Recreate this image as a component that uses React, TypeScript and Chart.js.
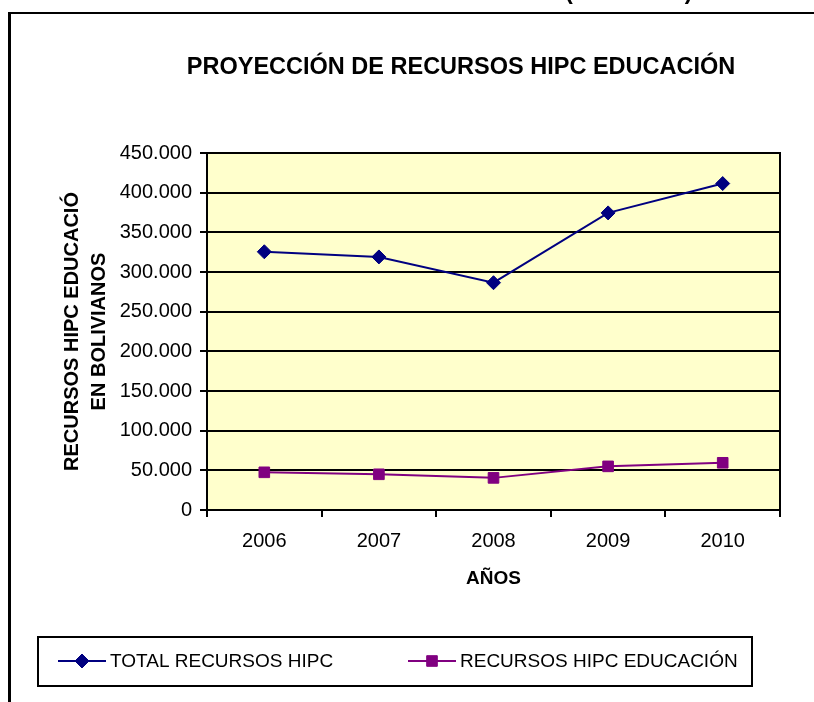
import React, { useEffect, useRef } from 'react';
import { Chart, registerables } from 'chart.js';

Chart.register(...registerables);

const FONT = "'Liberation Sans', Arial, sans-serif";

const categories = ['2006', '2007', '2008', '2009', '2010'];
const totalRecursos = [325500, 319000, 286500, 374500, 411500];
const recursosEducacion = [47500, 45000, 40500, 55000, 59500];
const seriesNames = ['TOTAL RECURSOS HIPC', 'RECURSOS HIPC EDUCACIÓN'];
const seriesColors = ['#000080', '#800080'];
const yMin = 0;
const yMax = 450000;
const yStep = 50000;
const chartTitle = 'PROYECCIÓN DE RECURSOS HIPC EDUCACIÓN';
const yAxisTitle = ['RECURSOS HIPC EDUCACIÓ', 'EN BOLIVIANOS'];
const xAxisTitle = 'AÑOS';
const headingText = '(2006-2010)';

const PLOT_BG = '#FFFFCC';

function fmt(v: number): string {
  if (v === 0) return '0';
  return String(Math.round(v)).replace(/\B(?=(\d{3})+(?!\d))/g, '.');
}

function drawMarker(ctx: CanvasRenderingContext2D, style: string, x: number, y: number, r: number, color: string) {
  ctx.save();
  ctx.fillStyle = color;
  ctx.strokeStyle = color;
  ctx.lineWidth = 1;
  ctx.beginPath();
  if (style === 'rectRot') {
    ctx.moveTo(x - r, y);
    ctx.lineTo(x, y - r);
    ctx.lineTo(x + r, y);
    ctx.lineTo(x, y + r);
    ctx.closePath();
  } else {
    const s = Math.SQRT1_2 * r;
    ctx.rect(x - s, y - s, 2 * s, 2 * s);
  }
  ctx.fill();
  ctx.stroke();
  ctx.restore();
}

const framePlugin = {
  id: 'framePlugin',
  beforeDraw(chart: any) {
    const { ctx, chartArea: a } = chart;
    ctx.save();
    ctx.fillStyle = PLOT_BG;
    ctx.fillRect(a.left, a.top, a.right - a.left, a.bottom - a.top);
    ctx.restore();
  },
  beforeDatasetsDraw(chart: any) {
    const { ctx, chartArea: a } = chart;
    ctx.save();
    ctx.strokeStyle = '#000';
    ctx.lineWidth = 2;
    ctx.strokeRect(a.left, a.top, a.right - a.left, a.bottom - a.top);
    ctx.restore();
  },
  afterDraw(chart: any) {
    const { ctx } = chart;
    ctx.save();
    // chart title
    ctx.fillStyle = '#000';
    ctx.font = `bold 23.5px ${FONT}`;
    ctx.textAlign = 'center';
    ctx.textBaseline = 'middle';
    ctx.fillText(chartTitle, 461, 68);

    // legend
    ctx.lineWidth = 2;
    ctx.strokeStyle = '#000';
    ctx.strokeRect(38, 637, 714, 49);
    const items = [
      { x: 58, textX: 110 },
      { x: 408, textX: 460 },
    ];
    const ly = 661;
    ctx.font = `19px ${FONT}`;
    ctx.textAlign = 'left';
    ctx.textBaseline = 'middle';
    chart.data.datasets.forEach((ds: any, i: number) => {
      const it = items[i];
      ctx.strokeStyle = ds.borderColor;
      ctx.lineWidth = 2;
      ctx.beginPath();
      ctx.moveTo(it.x, ly);
      ctx.lineTo(it.x + 48, ly);
      ctx.stroke();
      drawMarker(ctx, ds.pointStyle, it.x + 24, ly, ds.pointRadius, ds.borderColor);
      ctx.fillStyle = '#000';
      ctx.fillText(ds.label, it.textX, ly + 1);
    });
    ctx.restore();
  },
};

export default function App() {
  const ref = useRef<HTMLCanvasElement>(null);

  useEffect(() => {
    const canvas = ref.current!;
    const chart = new Chart(canvas, {
      type: 'line',
      data: {
        labels: categories,
        datasets: [
          {
            label: seriesNames[0],
            data: totalRecursos,
            borderColor: seriesColors[0],
            backgroundColor: seriesColors[0],
            pointBackgroundColor: seriesColors[0],
            pointBorderColor: seriesColors[0],
            pointStyle: 'rectRot',
            pointRadius: 7,
            pointBorderWidth: 1,
            borderWidth: 2,
            tension: 0,
            fill: false,
          },
          {
            label: seriesNames[1],
            data: recursosEducacion,
            borderColor: seriesColors[1],
            backgroundColor: seriesColors[1],
            pointBackgroundColor: seriesColors[1],
            pointBorderColor: seriesColors[1],
            pointStyle: 'rect',
            pointRadius: 7.5,
            pointBorderWidth: 1,
            borderWidth: 2,
            tension: 0,
            fill: false,
          },
        ],
      },
      options: {
        responsive: false,
        animation: false,
        devicePixelRatio: 1,
        layout: { padding: { top: 153, left: 10, right: 34, bottom: 100 } },
        plugins: {
          legend: { display: false },
          title: { display: false },
          tooltip: { enabled: false },
        },
        scales: {
          x: {
            type: 'category',
            offset: true,
            grid: {
              display: true,
              offset: true,
              drawOnChartArea: false,
              drawTicks: true,
              tickLength: 7,
              color: '#000',
              lineWidth: 2,
            },
            border: { display: true, color: '#000', width: 2 },
            ticks: { color: '#000', font: { family: FONT, size: 20 }, padding: 12, maxRotation: 0 },
            title: {
              display: true,
              text: xAxisTitle,
              color: '#000',
              font: { family: FONT, size: 19, weight: 'bold' },
              padding: { top: 4, bottom: 12 },
            },
            afterFit(scale: any) {
              scale.height = 92;
            },
          },
          y: {
            min: yMin,
            max: yMax,
            grid: {
              display: true,
              drawOnChartArea: true,
              drawTicks: true,
              tickLength: 7,
              color: '#000',
              lineWidth: 2,
            },
            border: { display: true, color: '#000', width: 2 },
            ticks: {
              stepSize: yStep,
              color: '#000',
              font: { family: FONT, size: 20 },
              padding: 8,
              callback: (v: any) => fmt(Number(v)),
            },
            title: {
              display: true,
              text: yAxisTitle,
              color: '#000',
              font: { family: FONT, size: 20, weight: 'bold', lineHeight: 1.35 },
              padding: { top: 48.5, bottom: 4 },
            },
            afterFit(scale: any) {
              scale.width = 197;
            },
          },
        },
      } as any,
      plugins: [framePlugin],
    });
    return () => chart.destroy();
  }, []);

  return (
    <div
      style={{
        position: 'fixed',
        left: 0,
        top: 0,
        width: 814,
        height: 702,
        overflow: 'hidden',
        background: '#fff',
      }}
    >
      <canvas
        ref={ref}
        width={814}
        height={702}
        style={{ position: 'absolute', left: 0, top: 0, width: 814, height: 702 }}
      />
      <div
        style={{
          position: 'absolute',
          left: 8,
          top: 12,
          width: 900,
          height: 800,
          borderLeft: '3px solid #000',
          borderTop: '2px solid #000',
          boxSizing: 'border-box',
          pointerEvents: 'none',
        }}
      />
      <div
        style={{
          position: 'absolute',
          left: 565,
          top: -24,
          fontFamily: FONT,
          fontWeight: 'bold',
          fontSize: '23.4px',
          lineHeight: '30px',
          whiteSpace: 'nowrap',
          color: '#000',
        }}
      >
        {headingText}
      </div>
    </div>
  );
}
